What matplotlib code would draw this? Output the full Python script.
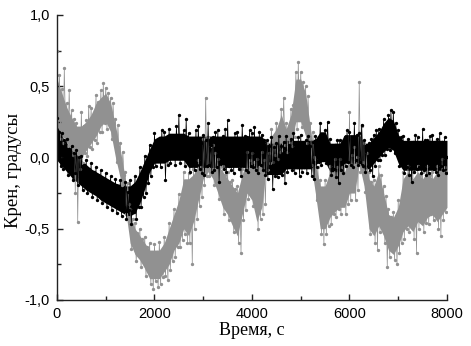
import numpy as np
import matplotlib
matplotlib.use("Agg")
import matplotlib.pyplot as plt
from matplotlib.ticker import MultipleLocator, FixedLocator, FixedFormatter

# sample step of the noisy series (s) and of the core band (s)
dt = 25.0
dt_band = 100.0

# gray series (deg), 4 samples per 100 s
gray_vals = [
    0.75, 0.22, 0.58, 0.13,   0.48, 0.10, 0.63, 0.20,   0.38, 0.08, 0.47, 0.16,
    0.33, 0.02, 0.27, -0.25,  0.24, -0.45, 0.18, -0.08, 0.32, -0.04, 0.22, 0.03,
    0.26, 0.01, 0.36, 0.07,   0.35, 0.06, 0.31, 0.12,   0.44, 0.10, 0.39, 0.18,
    0.47, 0.18, 0.52, 0.24,   0.49, 0.20, 0.45, 0.27,   0.42, 0.13, 0.38, 0.19,
    0.27, -0.03, 0.23, 0.02,  0.10, -0.19, 0.04, -0.12, -0.10, -0.40, -0.18, -0.33,
    -0.36, -0.64, -0.43, -0.57, -0.46, -0.73, -0.53, -0.67, -0.50, -0.77, -0.57, -0.71,
    -0.56, -0.83, -0.63, -0.78, -0.60, -0.89, -0.68, -0.92, -0.61, -0.87, -0.66, -0.91,
    -0.59, -0.89, -0.67, -0.84, -0.56, -0.83, -0.62, -0.86, -0.46, -0.79, -0.53, -0.73,
    -0.36, -0.70, -0.42, -0.63, -0.26, -0.63, -0.33, -0.58, -0.10, -0.54, -0.18, -0.60,
    -0.11, -0.60, -0.17, -0.75, -0.08, -0.50, -0.14, -0.43, -0.02, -0.34, -0.07, -0.28,
    0.13, -0.19, 0.42, -0.13,  0.14, -0.13, 0.08, -0.09,  0.09, -0.19, 0.03, -0.14,
    -0.01, -0.29, -0.07, -0.23, -0.06, -0.40, -0.12, -0.33, -0.10, -0.44, -0.17, -0.38,
    -0.16, -0.52, -0.22, -0.46, -0.20, -0.60, -0.27, -0.67, -0.08, -0.44, -0.14, -0.37,
    0.04, -0.29, -0.02, -0.23, 0.03, -0.34, -0.03, -0.28, -0.01, -0.50, -0.07, -0.43,
    0.04, -0.40, -0.02, -0.33, 0.10, -0.09, 0.03, -0.04,  0.20, -0.03, 0.13, 0.02,
    0.24, -0.01, 0.18, 0.04,   0.34, 0.05, 0.42, 0.09,    0.24, 0.04, 0.18, 0.10,
    0.34, 0.08, 0.37, 0.14,    0.60, 0.20, 0.67, 0.27,    0.60, 0.21, 0.53, 0.27,
    0.50, 0.10, 0.43, 0.17,    0.24, -0.05, 0.18, 0.00,  -0.01, -0.30, -0.07, -0.23,
    -0.16, -0.54, -0.22, -0.61, -0.16, -0.54, -0.23, -0.48, -0.06, -0.47, -0.12, -0.40,
    -0.01, -0.42, -0.07, -0.36, -0.01, -0.40, -0.07, -0.33, -0.06, -0.40, -0.12, -0.33,
    0.32, -0.30, 0.02, -0.23,  0.07, -0.30, 0.00, -0.23,  0.53, -0.10, 0.22, -0.03,
    0.10, -0.24, 0.03, -0.18, -0.10, -0.54, -0.17, -0.48, -0.16, -0.60, -0.22, -0.65,
    -0.06, -0.52, -0.12, -0.46, -0.20, -0.60, -0.27, -0.77, -0.36, -0.70, -0.42, -0.63,
    -0.38, -0.72, -0.44, -0.75, -0.30, -0.67, -0.37, -0.60, -0.10, -0.57, -0.17, -0.50,
    -0.06, -0.52, -0.12, -0.46, -0.10, -0.57, -0.17, -0.67, -0.06, -0.50, -0.12, -0.43,
    -0.10, -0.52, -0.17, -0.46, -0.06, -0.47, -0.12, -0.40, -0.10, -0.44, -0.17, -0.38,
    -0.06, -0.50, -0.12, -0.55, -0.01, -0.44, -0.07, -0.38,
    -0.10,
]

# dense core of the gray band, every 100 s (upper / lower)
gray_core_hi = [
    0.55, 0.45, 0.35, 0.28, 0.22, 0.22, 0.25, 0.30, 0.38, 0.42,
    0.45, 0.38, 0.22, 0.05, -0.15, -0.40, -0.50, -0.55, -0.60, -0.65,
    -0.65, -0.65, -0.60, -0.50, -0.40, -0.30, -0.15, -0.15, -0.12, -0.05,
    0.10, 0.10, 0.05, -0.05, -0.10, -0.15, -0.20, -0.25, -0.12, 0.00,
    0.00, -0.05, 0.00, 0.05, 0.15, 0.20, 0.30, 0.20, 0.30, 0.55,
    0.55, 0.45, 0.20, -0.05, -0.20, -0.20, -0.10, -0.05, -0.05, -0.10,
    0.00, 0.02, 0.20, 0.05, -0.15, -0.20, -0.10, -0.25, -0.40, -0.42,
    -0.35, -0.15, -0.10, -0.15, -0.10, -0.15, -0.10, -0.15, -0.10, -0.05,
    -0.10,
]
gray_core_lo = [
    0.20, 0.15, 0.12, 0.00, -0.10, 0.00, 0.05, 0.10, 0.15, 0.22,
    0.25, 0.18, 0.00, -0.15, -0.35, -0.60, -0.68, -0.72, -0.78, -0.85,
    -0.85, -0.85, -0.80, -0.75, -0.65, -0.60, -0.50, -0.55, -0.45, -0.30,
    -0.15, -0.10, -0.15, -0.25, -0.35, -0.40, -0.48, -0.55, -0.40, -0.25,
    -0.30, -0.45, -0.35, -0.05, 0.00, 0.02, 0.08, 0.08, 0.12, 0.25,
    0.25, 0.15, -0.02, -0.25, -0.50, -0.50, -0.42, -0.38, -0.35, -0.35,
    -0.25, -0.25, -0.05, -0.20, -0.50, -0.55, -0.48, -0.55, -0.65, -0.68,
    -0.62, -0.52, -0.48, -0.52, -0.45, -0.48, -0.42, -0.40, -0.45, -0.40,
    -0.35,
]

# black series (deg), 4 samples per 100 s
black_vals = [
    0.28, 0.00, 0.18, -0.06,   0.17, -0.08, 0.12, -0.03,  0.13, -0.12, 0.06, -0.08,
    0.08, -0.16, 0.03, -0.11,  0.05, -0.19, 0.00, -0.14,  0.01, -0.23, -0.05, -0.17,
    -0.02, -0.25, -0.08, -0.21, -0.04, -0.28, -0.10, -0.22, -0.07, -0.30, -0.12, -0.25,
    -0.09, -0.32, -0.15, -0.27, -0.11, -0.35, -0.17, -0.29, -0.13, -0.37, -0.19, -0.31,
    -0.15, -0.39, -0.21, -0.33, -0.16, -0.41, -0.22, -0.35, -0.17, -0.43, -0.24, -0.37,
    -0.16, -0.47, -0.23, -0.38, -0.13, -0.43, -0.20, -0.35, -0.07, -0.35, -0.13, -0.28,
    0.01, -0.25, -0.05, -0.18,  0.09, -0.13, 0.03, -0.07,  0.17, -0.06, 0.10, -0.02,
    0.13, -0.07, 0.19, -0.01,  0.18, -0.16, 0.11, -0.05,  0.20, -0.04, 0.14, 0.01,
    0.15, -0.05, 0.22, 0.00,   0.30, -0.04, 0.13, 0.02,   0.19, -0.06, 0.27, -0.01,
    0.17, -0.10, 0.12, -0.04,  0.13, -0.09, 0.19, -0.05,  0.22, -0.08, 0.10, -0.11,
    0.16, -0.12, 0.12, -0.06,  0.24, -0.05, 0.09, -0.10,  0.14, -0.09, 0.18, -0.07,
    0.19, -0.17, 0.11, -0.04,  0.15, -0.08, 0.20, -0.10,  0.26, -0.06, 0.13, -0.09,
    0.12, -0.11, 0.17, -0.05,  0.18, -0.08, 0.10, -0.13,  0.23, -0.05, 0.15, -0.09,
    0.14, -0.10, 0.19, -0.06,  0.17, -0.07, 0.21, -0.09,  0.13, -0.11, 0.18, -0.05,
    0.16, -0.09, 0.12, -0.12,  0.12, -0.15, 0.08, -0.10,  0.14, -0.22, 0.07, -0.13,
    0.10, -0.14, 0.15, -0.09,  0.08, -0.12, 0.11, -0.18,  0.15, -0.10, 0.09, -0.06,
    0.13, -0.09, 0.17, -0.11,  0.10, -0.07, 0.14, -0.13,  0.16, -0.10, 0.09, -0.07,
    0.12, -0.11, 0.15, -0.06,  0.08, -0.13, 0.11, -0.15,  0.15, -0.07, 0.10, -0.03,
    0.24, -0.05, 0.15, -0.01,  0.19, -0.04, 0.25, 0.00,   0.13, -0.12, 0.08, -0.08,
    0.09, -0.14, 0.12, -0.18,  0.12, -0.09, 0.07, -0.11,  0.14, -0.06, 0.19, -0.03,
    0.18, -0.05, 0.13, -0.07,  0.24, -0.02, 0.16, -0.05,  0.17, -0.03, 0.23, -0.06,
    0.12, -0.10, 0.08, -0.06,  0.10, -0.09, 0.13, -0.13,  0.16, -0.06, 0.19, -0.02,
    0.20, -0.02, 0.16, 0.02,   0.27, 0.02, 0.22, 0.06,    0.30, 0.05, 0.33, 0.09,
    0.32, 0.03, 0.24, 0.07,    0.19, -0.06, 0.14, -0.02,  0.15, -0.11, 0.10, -0.07,
    0.13, -0.12, 0.09, -0.17,  0.11, -0.10, 0.16, -0.08,  0.14, -0.07, 0.10, -0.11,
    0.20, -0.09, 0.12, -0.12,  0.12, -0.11, 0.15, -0.07,  0.16, -0.08, 0.11, -0.10,
    0.13, -0.12, 0.17, -0.06,  0.11, -0.09, 0.14, -0.11,
    0.00,
]

# dense core of the black band, every 100 s (upper / lower)
black_core_hi = [
    0.22, 0.15, 0.10, 0.05, 0.02, -0.02, -0.05, -0.08, -0.10, -0.12,
    -0.14, -0.16, -0.18, -0.19, -0.20, -0.20, -0.17, -0.10, -0.02, 0.06,
    0.13, 0.15, 0.15, 0.17, 0.17, 0.17, 0.17, 0.15, 0.15, 0.15,
    0.15, 0.15, 0.15, 0.15, 0.15, 0.15, 0.15, 0.15, 0.15, 0.15,
    0.15, 0.15, 0.15, 0.10, 0.10, 0.10, 0.10, 0.12, 0.12, 0.12,
    0.12, 0.12, 0.12, 0.13, 0.18, 0.18, 0.10, 0.10, 0.10, 0.16,
    0.16, 0.16, 0.16, 0.10, 0.10, 0.14, 0.18, 0.24, 0.28, 0.26,
    0.16, 0.12, 0.12, 0.12, 0.12, 0.12, 0.12, 0.12, 0.12, 0.12,
    0.12,
]
black_core_lo = [
    -0.02, -0.06, -0.10, -0.14, -0.17, -0.20, -0.23, -0.25, -0.27, -0.30,
    -0.32, -0.34, -0.36, -0.38, -0.40, -0.41, -0.39, -0.32, -0.22, -0.10,
    -0.04, -0.04, -0.04, -0.02, -0.02, -0.02, -0.02, -0.07, -0.07, -0.07,
    -0.07, -0.07, -0.07, -0.07, -0.07, -0.07, -0.07, -0.07, -0.07, -0.07,
    -0.07, -0.07, -0.07, -0.12, -0.12, -0.12, -0.12, -0.08, -0.08, -0.08,
    -0.08, -0.08, -0.08, -0.05, -0.03, -0.03, -0.10, -0.10, -0.10, -0.04,
    -0.04, -0.04, -0.04, -0.08, -0.08, -0.04, 0.00, 0.04, 0.07, 0.05,
    -0.04, -0.09, -0.09, -0.09, -0.09, -0.09, -0.09, -0.09, -0.09, -0.09,
    -0.09,
]

x_ticks = [0, 2000, 4000, 6000, 8000]
x_tick_labels = ["0", "2000", "4000", "6000", "8000"]
y_ticks = [-1.0, -0.5, 0.0, 0.5, 1.0]
y_tick_labels = ["-1,0", "-0,5", "0,0", "0,5", "1,0"]
x_label = "Время, с"
y_label = "Крен, градусы"

gray_c = "#919191"
black_c = "#000000"

t_gray = np.arange(len(gray_vals)) * dt
t_black = np.arange(len(black_vals)) * dt
t_band = np.arange(len(gray_core_hi)) * dt_band

fig = plt.figure(figsize=(4.71, 3.46), dpi=100)
ax = fig.add_axes([0.121, 0.133, 0.828, 0.824])

ax.fill_between(t_band, gray_core_lo, gray_core_hi, color=gray_c, lw=0)
ax.plot(t_gray, gray_vals, color=gray_c, lw=0.5, marker="o", ms=1.4,
        mec=gray_c, mfc=gray_c)
ax.fill_between(t_band, black_core_lo, black_core_hi, color=black_c, lw=0)
ax.plot(t_black, black_vals, color=black_c, lw=0.5, marker="o", ms=1.4,
        mec=black_c, mfc=black_c)

ax.set_xlim(0, 8000)
ax.set_ylim(-1.0, 1.0)
ax.xaxis.set_major_locator(FixedLocator(x_ticks))
ax.xaxis.set_major_formatter(FixedFormatter(x_tick_labels))
ax.xaxis.set_minor_locator(MultipleLocator(1000))
ax.yaxis.set_major_locator(FixedLocator(y_ticks))
ax.yaxis.set_major_formatter(FixedFormatter(y_tick_labels))
ax.yaxis.set_minor_locator(MultipleLocator(0.25))

for s in ("top", "right"):
    ax.spines[s].set_visible(False)
for s in ("left", "bottom"):
    ax.spines[s].set_linewidth(1.0)
    ax.spines[s].set_color("#222222")

ax.tick_params(which="both", direction="in", color="#222222", width=1.0)
ax.tick_params(which="major", length=4)
ax.tick_params(which="minor", length=3)
ax.tick_params(axis="both", labelsize=10.5, pad=5)
for lab in ax.get_xticklabels() + ax.get_yticklabels():
    lab.set_fontfamily("Liberation Sans")

ax.set_xlabel(x_label, family="Liberation Serif", fontsize=13, labelpad=1)
ax.set_ylabel(y_label, family="Liberation Serif", fontsize=13.5)
ax.yaxis.set_label_coords(-0.09, 0.455)

fig.savefig("out.png", dpi=100)
